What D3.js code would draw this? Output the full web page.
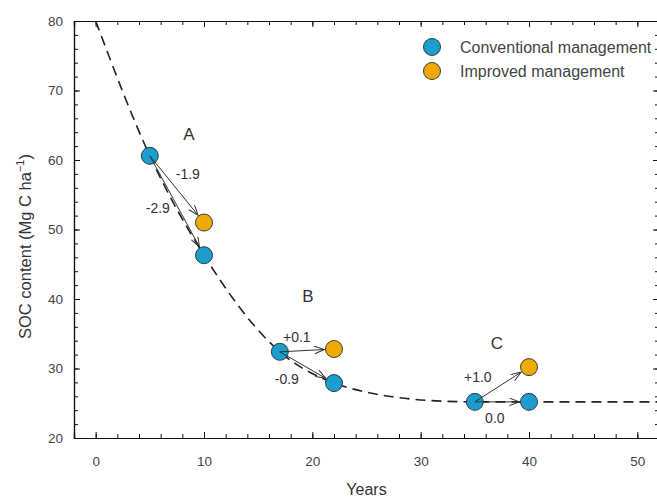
<!DOCTYPE html>
<html>
<head>
<meta charset="utf-8">
<script src="https://cdn.jsdelivr.net/npm/d3@7"></script>
<style>
  body { margin: 0; background: #fff; }
  svg { display: block; font-family: "Liberation Sans", Arial, sans-serif; }
</style>
</head>
<body>
<div id="chart"></div>
<script>
// dashed trajectory
const curveYears = [0, 5, 10, 17, 22, 25, 28, 32, 35, 40, 52];
const curveSoc = [80, 60.6, 46.3, 32.4, 27.9, 26.6, 25.8, 25.3, 25.2, 25.2, 25.2];

// scenarios A, B, C
const scenarios = ['A', 'B', 'C'];
const startYears = [5, 17, 35];
const startSoc = [60.6, 32.4, 25.2];
const endYears = [10, 22, 40];
const conventionalSoc = [46.3, 27.9, 25.2];
const improvedSoc = [51.0, 32.8, 30.2];
const conventionalRate = ['-2.9', '-0.9', '0.0'];
const improvedRate = ['-1.9', '+0.1', '+1.0'];

const xTicks = [0, 10, 20, 30, 40, 50];
const yTicks = [20, 30, 40, 50, 60, 70, 80];

const colors = { conventional: '#1b9dd0', improved: '#f0aa05' };
const ink = '#333';

const W = 657, H = 498;
const svg = d3.select('#chart').append('svg')
  .attr('width', W).attr('height', H);

const x = d3.scaleLinear().domain([-2, 52]).range([74, 659]);
const y = d3.scaleLinear().domain([20, 80]).range([438, 21]);

// axes, ticks inward on all four sides
const minorX = d3.range(-2, 53, 2), minorY = d3.range(20, 81, 2);
function axisStyle(g) {
  g.select('.domain').attr('stroke', '#111').attr('stroke-width', 1.2);
  g.selectAll('.tick line').attr('stroke', '#111');
  g.selectAll('.tick text').attr('fill', '#444').style('font-size', '13.5px');
}
svg.append('g').attr('transform', `translate(0,${y(20)})`)
  .call(d3.axisBottom(x).tickValues(minorX).tickSize(-4).tickFormat('')).call(axisStyle);
svg.append('g').attr('transform', `translate(0,${y(20)})`)
  .call(d3.axisBottom(x).tickValues(xTicks).tickSize(-6).tickPadding(18)).call(axisStyle);
svg.append('g').attr('transform', `translate(0,${y(80)})`)
  .call(d3.axisTop(x).tickValues(minorX).tickSize(-4).tickFormat('')).call(axisStyle);
svg.append('g').attr('transform', `translate(0,${y(80)})`)
  .call(d3.axisTop(x).tickValues(xTicks).tickSize(-6).tickFormat('')).call(axisStyle);
svg.append('g').attr('transform', `translate(${x(-2)},0)`)
  .call(d3.axisLeft(y).tickValues(minorY).tickSize(-4).tickFormat('')).call(axisStyle);
svg.append('g').attr('transform', `translate(${x(-2)},0)`)
  .call(d3.axisLeft(y).tickValues(yTicks).tickSize(-6).tickPadding(11)).call(axisStyle);
svg.append('g').attr('transform', `translate(${x(52)},0)`)
  .call(d3.axisRight(y).tickValues(minorY).tickSize(-4).tickFormat('')).call(axisStyle);
svg.append('g').attr('transform', `translate(${x(52)},0)`)
  .call(d3.axisRight(y).tickValues(yTicks).tickSize(-6).tickFormat('')).call(axisStyle);

// axis titles
svg.append('text')
  .attr('x', (x(-2) + x(52)) / 2).attr('y', 495)
  .attr('text-anchor', 'middle').attr('fill', '#333')
  .style('font-size', '16px').text('Years');

const yTitle = svg.append('text')
  .attr('transform', `translate(31,${(y(20) + y(80)) / 2 + 17}) rotate(-90)`)
  .attr('text-anchor', 'middle').attr('fill', '#333')
  .style('font-size', '16.5px');
yTitle.append('tspan').text('SOC content (Mg C ha');
yTitle.append('tspan').attr('dy', -7).style('font-size', '11px').text('−1');
yTitle.append('tspan').attr('dy', 7).text(')');

// dashed trajectory
const curveData = curveYears.map((t, i) => ({ t, v: curveSoc[i] }));
svg.append('path')
  .datum(curveData)
  .attr('fill', 'none')
  .attr('stroke', '#222')
  .attr('stroke-width', 1.6)
  .attr('stroke-dasharray', '10,6')
  .attr('d', d3.line().x(d => x(d.t)).y(d => y(d.v)).curve(d3.curveMonotoneX));

// arrow marker
svg.append('defs').append('marker')
  .attr('id', 'arrow')
  .attr('markerUnits', 'userSpaceOnUse')
  .attr('markerWidth', 13).attr('markerHeight', 10)
  .attr('refX', 11).attr('refY', 4)
  .attr('orient', 'auto')
  .append('path')
  .attr('d', 'M1,0.3 L11,4 L1,7.7')
  .attr('fill', 'none').attr('stroke', ink).attr('stroke-width', 1);

const r = 8.5;
const points = [];
const arrows = [];
scenarios.forEach((s, i) => {
  points.push({ t: startYears[i], v: startSoc[i], type: 'conventional' });
  points.push({ t: endYears[i], v: conventionalSoc[i], type: 'conventional' });
  points.push({ t: endYears[i], v: improvedSoc[i], type: 'improved' });
  arrows.push({ t0: startYears[i], v0: startSoc[i], t1: endYears[i], v1: improvedSoc[i] });
  arrows.push({ t0: startYears[i], v0: startSoc[i], t1: endYears[i], v1: conventionalSoc[i] });
});

svg.selectAll('.pt')
  .data(points)
  .enter()
  .append('circle')
  .attr('class', 'pt')
  .attr('cx', d => x(d.t))
  .attr('cy', d => y(d.v))
  .attr('r', r)
  .attr('fill', d => colors[d.type])
  .attr('stroke', '#2a2a2a')
  .attr('stroke-width', 0.9);

svg.selectAll('.arrow')
  .data(arrows)
  .enter()
  .append('line')
  .attr('class', 'arrow')
  .attr('x1', d => x(d.t0))
  .attr('y1', d => y(d.v0))
  .attr('x2', d => {
    const dx = x(d.t1) - x(d.t0), dy = y(d.v1) - y(d.v0);
    return x(d.t1) - dx / Math.hypot(dx, dy) * (r + 1);
  })
  .attr('y2', d => {
    const dx = x(d.t1) - x(d.t0), dy = y(d.v1) - y(d.v0);
    return y(d.v1) - dy / Math.hypot(dx, dy) * (r + 1);
  })
  .attr('stroke', ink)
  .attr('stroke-width', 1)
  .attr('marker-end', 'url(#arrow)');

// scenario letters and rates
const letterOffset = [[39, -21], [28, -55], [22, -58]];
const impOffset = [[38, 18], [17, -15], [3, -25]];
const convOffset = [[8, 52], [7, 27.5], [20, 16.5]];
scenarios.forEach((s, i) => {
  const px = x(startYears[i]), py = y(startSoc[i]);
  svg.append('text')
    .attr('x', px + letterOffset[i][0]).attr('y', py + letterOffset[i][1])
    .attr('text-anchor', 'middle').attr('dominant-baseline', 'central')
    .attr('fill', '#333').style('font-size', '17px').text(s);
  svg.append('text')
    .attr('x', px + impOffset[i][0]).attr('y', py + impOffset[i][1])
    .attr('text-anchor', 'middle').attr('dominant-baseline', 'central')
    .attr('fill', '#333').style('font-size', '14px').text(improvedRate[i]);
  svg.append('text')
    .attr('x', px + convOffset[i][0]).attr('y', py + convOffset[i][1])
    .attr('text-anchor', 'middle').attr('dominant-baseline', 'central')
    .attr('fill', '#333').style('font-size', '14px').text(conventionalRate[i]);
});

// legend
const legendItems = [
  { label: 'Conventional management', type: 'conventional' },
  { label: 'Improved management', type: 'improved' }
];
const legend = svg.append('g').attr('transform', 'translate(432,47)');
legendItems.forEach((d, i) => {
  legend.append('circle')
    .attr('cx', 0).attr('cy', i * 24)
    .attr('r', 8.5)
    .attr('fill', colors[d.type])
    .attr('stroke', '#2a2a2a').attr('stroke-width', 0.9);
  legend.append('text')
    .attr('x', 28).attr('y', i * 24)
    .attr('dominant-baseline', 'central')
    .attr('fill', '#444').style('font-size', '16px')
    .text(d.label);
});
</script>
</body>
</html>
